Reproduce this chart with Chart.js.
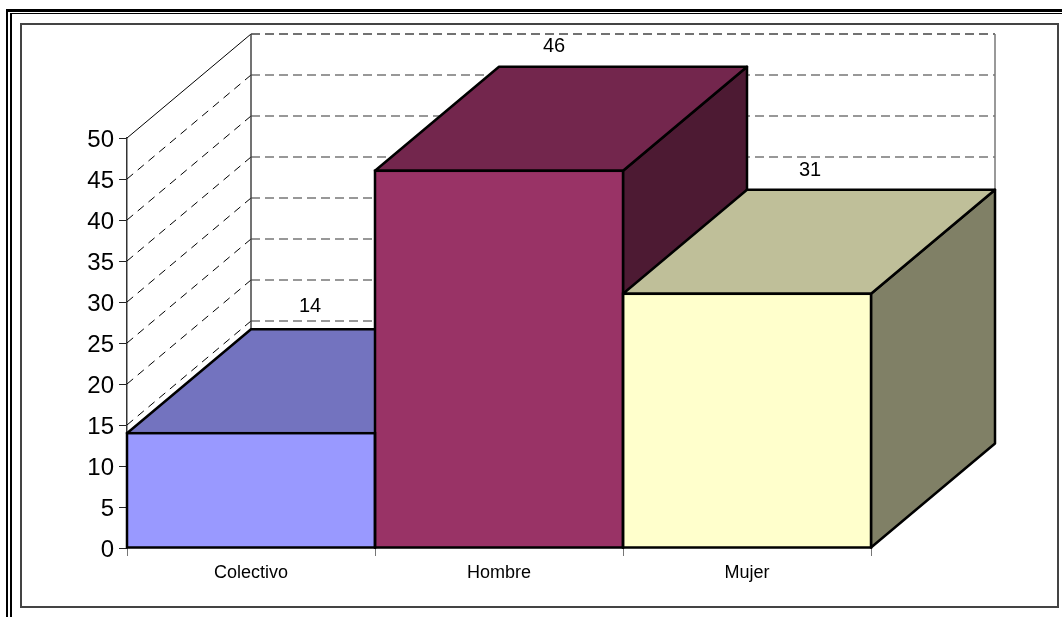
<!DOCTYPE html>
<html>
<head>
<meta charset="utf-8">
<title>Colectivo, Hombre, Mujer</title>
<script src="https://cdn.jsdelivr.net/npm/chart.js@4"></script>
<style>
  html, body { margin: 0; padding: 0; background: #fff; overflow: hidden; }
  #marco { position: relative; width: 1062px; height: 617px; }
  canvas { position: absolute; left: 0; top: 0; }
  .linea { position: absolute; background: #000; }
</style>
</head>
<body>
<div id="marco">
  <canvas id="grafico" width="1062" height="617"></canvas>
  <div class="linea" style="left:6px; top:9px; width:1056px; height:3px"></div>
  <div class="linea" style="left:10px; top:13px; width:1052px; height:1px"></div>
  <div class="linea" style="left:6px; top:9px; width:2px; height:608px"></div>
  <div class="linea" style="left:10px; top:13px; width:2px; height:604px"></div>
  <div style="position:absolute; left:20px; top:23px; width:1035px; height:581px; border:2px solid #444"></div>
</div>

<script>
var categorias = ["Colectivo", "Hombre", "Mujer"];
var valores = [14, 46, 31];
var coloresFrente = ["#9999ff", "#993366", "#ffffcc"];
var coloresArriba = ["#7373bf", "#73264d", "#bfbf99"];
var coloresLado = ["#4d4d80", "#4d1a33", "#808066"];

// desplazamiento de la profundidad 3D
var fondoX = 124;
var fondoY = -104;
var ajusteEtiquetaX = [-3, -7, 1];
var ajusteEtiquetaY = [-2, 1, 2];

function cara(ctx, puntos, color) {
    ctx.beginPath();
    ctx.moveTo(puntos[0][0], puntos[0][1]);
    for (var i = 1; i < puntos.length; i++) {
        ctx.lineTo(puntos[i][0], puntos[i][1]);
    }
    ctx.closePath();
    ctx.fillStyle = color;
    ctx.fill();
    ctx.lineWidth = 2.5;
    ctx.strokeStyle = "#000";
    ctx.lineJoin = "round";
    ctx.stroke();
}

var plugin3D = {
    id: "plugin3D",
    beforeDatasetsDraw: function (chart) {
        var ctx = chart.ctx;
        var area = chart.chartArea;
        var escalaY = chart.scales.y;

        // paredes: lineas punteadas de la cuadricula
        ctx.save();
        escalaY.ticks.forEach(function (tick) {
            var y = escalaY.getPixelForValue(tick.value);
            ctx.beginPath();
            ctx.setLineDash([8, 6]);
            ctx.lineWidth = 1;
            ctx.strokeStyle = "#000";
            if (tick.value === 50) {
                ctx.setLineDash([]);
            }
            ctx.moveTo(area.left, y);
            ctx.lineTo(area.left + fondoX, y + fondoY);
            ctx.stroke();

            ctx.beginPath();
            ctx.setLineDash([9, 5]);
            ctx.lineWidth = 1.5;
            ctx.strokeStyle = tick.value === 50 ? "#444" : "#777";
            ctx.moveTo(area.left + fondoX, y + fondoY);
            ctx.lineTo(area.right + fondoX, y + fondoY);
            ctx.stroke();
        });
        ctx.setLineDash([]);
        ctx.lineWidth = 1.5;
        ctx.strokeStyle = "#444";
        ctx.beginPath();
        ctx.moveTo(area.left + fondoX, area.top + fondoY);
        ctx.lineTo(area.left + fondoX, area.bottom + fondoY);
        ctx.stroke();
        ctx.strokeStyle = "#777";
        ctx.beginPath();
        ctx.moveTo(area.right + fondoX, area.top + fondoY);
        ctx.lineTo(area.right + fondoX, area.bottom + fondoY);
        ctx.stroke();

        // caras de arriba y del lado de cada barra
        var barras = chart.getDatasetMeta(0).data;
        barras.forEach(function (barra, i) {
            var p = barra.getProps(["x", "y", "base", "width"], true);
            var izq = p.x - p.width / 2;
            var der = p.x + p.width / 2;
            cara(ctx, [[der, p.y], [der + fondoX, p.y + fondoY], [der + fondoX, p.base + fondoY], [der, p.base]], coloresLado[i]);
            cara(ctx, [[izq, p.y], [izq + fondoX, p.y + fondoY], [der + fondoX, p.y + fondoY], [der, p.y]], coloresArriba[i]);
        });
        ctx.restore();
    },
    afterDatasetsDraw: function (chart) {
        var ctx = chart.ctx;
        var barras = chart.getDatasetMeta(0).data;
        ctx.save();
        barras.forEach(function (barra, i) {
            var p = barra.getProps(["x", "y", "base", "width"], true);
            ctx.lineWidth = 2.5;
            ctx.strokeStyle = "#000";
            ctx.strokeRect(p.x - p.width / 2, p.y, p.width, p.base - p.y);

            // valor encima de la barra
            ctx.fillStyle = "#000";
            ctx.font = "20px 'Liberation Sans'";
            ctx.textAlign = "center";
            ctx.textBaseline = "middle";
            ctx.fillText(String(valores[i]), p.x + fondoX / 2 + ajusteEtiquetaX[i], p.y + fondoY - 21 + ajusteEtiquetaY[i]);
        });
        ctx.restore();
    }
};

new Chart(document.getElementById("grafico"), {
    type: "bar",
    data: {
        labels: categorias,
        datasets: [{
            data: valores,
            backgroundColor: coloresFrente,
            borderWidth: 0,
            categoryPercentage: 1,
            barPercentage: 1
        }]
    },
    options: {
        responsive: false,
        animation: false,
        layout: { padding: { top: 138, right: 191, left: 0, bottom: 0 } },
        plugins: {
            legend: { display: false },
            tooltip: { enabled: false }
        },
        scales: {
            x: {
                afterFit: function (escala) { escala.height = 69; },
                border: { display: false },
                grid: { drawOnChartArea: false, tickLength: 8, tickColor: "#777" },
                ticks: {
                    color: "#000",
                    padding: 6,
                    maxRotation: 0,
                    font: { family: "'Liberation Sans'", size: 18 }
                }
            },
            y: {
                min: 0,
                max: 50,
                afterFit: function (escala) { escala.width = 127; },
                border: { display: true, color: "#333", width: 1.5 },
                grid: { drawOnChartArea: false, tickLength: 8, tickColor: "#222" },
                ticks: {
                    stepSize: 5,
                    color: "#000",
                    padding: 5,
                    labelOffset: 2,
                    font: { family: "'Liberation Sans'", size: 24 }
                }
            }
        }
    },
    plugins: [plugin3D]
});
</script>
</body>
</html>
